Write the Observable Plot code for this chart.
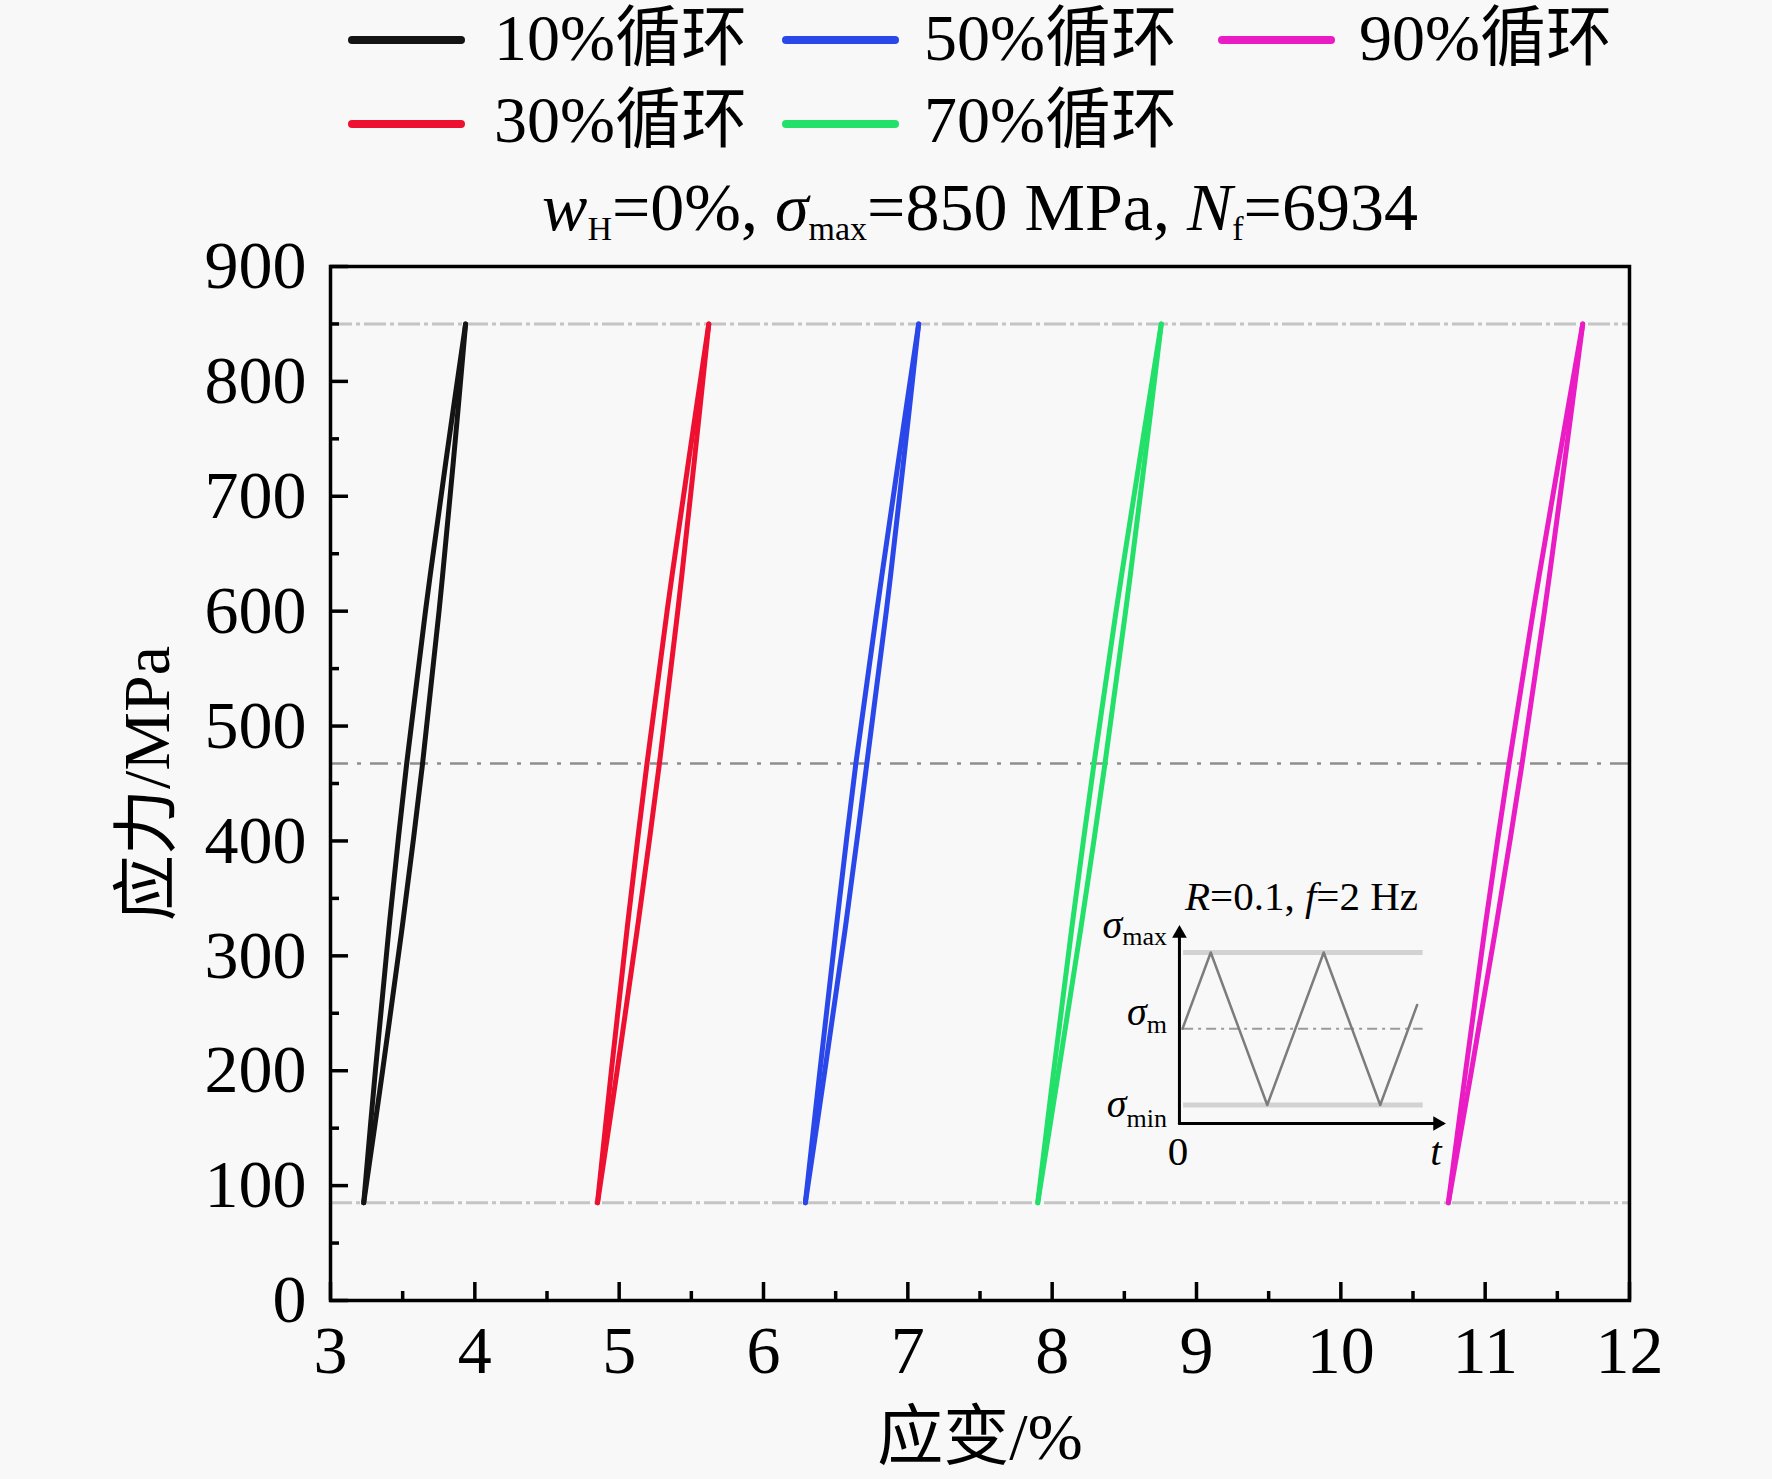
<!DOCTYPE html>
<html><head><meta charset="utf-8">
<script src="https://cdn.jsdelivr.net/npm/d3@7"></script>
<script src="https://cdn.jsdelivr.net/npm/@observablehq/plot@0.6"></script>
<style>
body{margin:0;background:#f8f8f8;}
#wrap{position:relative;width:1772px;height:1479px;background:#f8f8f8;font-family:'Liberation Serif','Noto Sans CJK SC',serif;color:#000;overflow:hidden}
.lbl{position:absolute;white-space:nowrap;}
.lbl sub{font-size:0.5em;vertical-align:-0.3em;line-height:0}
</style></head><body><div id="wrap"></div>
<script>
// ---- data ----
const seriesNames = ["10%循环", "30%循环", "50%循环", "70%循环", "90%循环"];
const seriesColors = ["#141414", "#ee1030", "#2a48ea", "#22e06a", "#ea1cc4"];
const stressLevels = [85, 200, 330, 467.5, 600, 730, 850];
// strain (%) of the two branches of each hysteresis loop at stressLevels
const s10a = [3.230, 3.311, 3.410, 3.528, 3.658, 3.799, 3.936];
const s10b = [3.230, 3.361, 3.502, 3.638, 3.752, 3.851, 3.936];
const s30a = [4.850, 4.946, 5.061, 5.193, 5.332, 5.480, 5.621];
const s30b = [4.850, 4.986, 5.133, 5.279, 5.406, 5.520, 5.621];
const s50a = [6.290, 6.391, 6.509, 6.640, 6.785, 6.934, 7.075];
const s50b = [6.290, 6.425, 6.573, 6.716, 6.851, 6.970, 7.075];
const s70a = [7.900, 8.011, 8.142, 8.290, 8.443, 8.604, 8.756];
const s70b = [7.900, 8.045, 8.206, 8.366, 8.509, 8.640, 8.756];
const s90a = [10.745, 10.865, 11.005, 11.166, 11.333, 11.509, 11.676];
const s90b = [10.745, 10.905, 11.081, 11.256, 11.411, 11.551, 11.676];
const branchesA = [s10a, s30a, s50a, s70a, s90a];
const branchesB = [s10b, s30b, s50b, s70b, s90b];
const sigmaLevels = [850, 85];
const sigmaMean = [467.5];
const xMajor = [3, 4, 5, 6, 7, 8, 9, 10, 11, 12];
const xMinor = [3.5, 4.5, 5.5, 6.5, 7.5, 8.5, 9.5, 10.5, 11.5];
const yMajor = [0, 100, 200, 300, 400, 500, 600, 700, 800, 900];
const yMinor = [50, 150, 250, 350, 450, 550, 650, 750, 850];
// inset schematic (time in cycles, stress in MPa)
const waveT = [0, 0.25, 0.75, 1.25, 1.75, 2.077];
const waveS = [467.5, 850, 85, 850, 85, 587];
const insetSpanT = [0.01, 2.13];
const insetAxisT = [-0.027, 2.30];
const insetAxisS = [-7.8, 930];
const insetHeadY = [{t: -0.027, s: 945}];
const insetHeadX = [{t: 2.257, s: -7.8}];

// ---- build table ----
const rows = [];
seriesNames.forEach((name, i) => {
  stressLevels.forEach((s, j) => rows.push({series: name, branch: "a", strain: branchesA[i][j], stress: s}));
  stressLevels.forEach((s, j) => rows.push({series: name, branch: "b", strain: branchesB[i][j], stress: s}));
});

const FONT = "'Liberation Serif','Noto Sans CJK SC',serif";
const wrap = document.getElementById("wrap");
const intFmt = d => String(d);

const main = Plot.plot({
  width: 1772, height: 1479,
  marginLeft: 330, marginRight: 143, marginTop: 266, marginBottom: 179,
  x: {domain: [3, 12], label: null},
  y: {domain: [0, 900], label: null},
  color: {domain: seriesNames, range: seriesColors},
  style: {background: "transparent", fontFamily: FONT, fontSize: "68px", overflow: "visible", color: "#000"},
  marks: [
    Plot.ruleY(sigmaLevels, {stroke: "#c4c4c4", strokeWidth: 3, strokeDasharray: "22,4,4,4"}),
    Plot.ruleY(sigmaMean, {stroke: "#8e8e8e", strokeWidth: 2.5, strokeDasharray: "18,9,4,9"}),
    Plot.line(rows, {x: "strain", y: "stress", z: d => d.series + d.branch, stroke: "series", strokeWidth: 5, curve: "catmull-rom"}),
    Plot.frame({stroke: "#000", strokeWidth: 3.5}),
    Plot.axisX(xMajor, {tickSize: -18, tickFormat: () => "", strokeWidth: 3.5, label: null}),
    Plot.axisX(xMinor, {tickSize: -9, tickFormat: () => "", strokeWidth: 3.5, label: null}),
    Plot.axisX(xMajor, {tickSize: 0, tickPadding: 24, fontSize: 68, tickFormat: intFmt, label: null}),
    Plot.axisY(yMajor, {tickSize: -18, tickFormat: () => "", strokeWidth: 3.5, label: null}),
    Plot.axisY(yMinor, {tickSize: -9, tickFormat: () => "", strokeWidth: 3.5, label: null}),
    Plot.axisY(yMajor, {tickSize: 0, tickPadding: 24, fontSize: 68, tickFormat: intFmt, label: null}),
    Plot.text(["应变/%"], {text: d => d, frameAnchor: "bottom", textAnchor: "middle", dy: 158, lineAnchor: "bottom", fontSize: 66}),
    Plot.text(["应力/MPa"], {text: d => d, frameAnchor: "left", textAnchor: "middle", dx: -183, rotate: -90, fontSize: 66})
  ]
});
main.style.position = "absolute";
main.style.left = "0px";
main.style.top = "0px";
wrap.appendChild(main);

// inset plot
const inset = Plot.plot({
  width: 400, height: 310,
  marginLeft: 102, marginRight: 29.1, marginTop: 82, marginBottom: 75.5,
  x: {domain: [0, 2.38], label: null, axis: null},
  y: {domain: [85, 850], label: null, axis: null},
  style: {background: "transparent", overflow: "visible"},
  marks: [
    Plot.ruleY(sigmaLevels, {x1: insetSpanT[0], x2: insetSpanT[1], stroke: "#d2d2d2", strokeWidth: 5}),
    Plot.ruleY(sigmaMean, {x1: insetSpanT[0], x2: insetSpanT[1], stroke: "#9a9a9a", strokeWidth: 2, strokeDasharray: "10,5,3,5"}),
    Plot.line(waveT.map((t, i) => ({t, s: waveS[i]})), {x: "t", y: "s", stroke: "#7c7c7c", strokeWidth: 2.5}),
    Plot.line(insetAxisS.map(s => ({t: insetAxisT[0], s})), {x: "t", y: "s", stroke: "#000", strokeWidth: 3}),
    Plot.line(insetAxisT.map(t => ({t, s: insetAxisS[0]})), {x: "t", y: "s", stroke: "#000", strokeWidth: 3}),
    Plot.dot(insetHeadY, {x: "t", y: "s", symbol: "triangle2", r: 7, fill: "#000", stroke: "none"}),
    Plot.dot(insetHeadX, {x: "t", y: "s", symbol: "triangle2", r: 7, fill: "#000", stroke: "none", rotate: 90})
  ]
});
inset.style.position = "absolute";
inset.style.left = "1080px";
inset.style.top = "870px";
wrap.appendChild(inset);

// ---- HTML text helpers ----
function place(html, x, baseline, size, align, extra) {
  const d = document.createElement("div");
  d.className = "lbl";
  d.innerHTML = html;
  d.style.fontSize = size + "px";
  d.style.lineHeight = size + "px";
  d.style.left = x + "px";
  d.style.top = (baseline - 0.8375 * size) + "px";
  if (align === "right") d.style.transform = "translateX(-100%)";
  if (align === "center") d.style.transform = "translateX(-50%)";
  if (extra) Object.assign(d.style, extra);
  wrap.appendChild(d);
  return d;
}

// legend (column-major: 3 columns x 2 rows)
const legendColX = [348, 782, 1218];
const legendTextX = [494, 924, 1359];
const legendRowY = [40, 124];
const legendRowBase = [60, 142];
seriesNames.forEach((name, i) => {
  const col = Math.floor(i / 2), row = i % 2;
  const sw = document.createElement("div");
  sw.style.cssText = `position:absolute;left:${legendColX[col]}px;top:${legendRowY[row] - 4}px;width:117px;height:8px;border-radius:4px;background:${seriesColors[i]}`;
  wrap.appendChild(sw);
  place(name, legendTextX[col], legendRowBase[row], 66, "left");
});

// title
place('<i>w</i><sub>H</sub>=0%, <i>σ</i><sub>max</sub>=850 MPa, <i>N</i><sub>f</sub>=6934', 980, 230, 68, "center");

// inset labels
place('<i>R</i>=0.1, <i>f</i>=2 Hz', 1185, 910, 41, "left");
place('<i>σ</i><span style="font-size:26px;vertical-align:-7px;line-height:0">max</span>', 1167, 938, 40, "right");
place('<i>σ</i><span style="font-size:26px;vertical-align:-8px;line-height:0">m</span>', 1167, 1025, 40, "right");
place('<i>σ</i><span style="font-size:26px;vertical-align:-10px;line-height:0">min</span>', 1167, 1117, 40, "right");
place('0', 1178, 1165, 41, "center");
place('<i>t</i>', 1436, 1165, 41, "center");
</script></body></html>
